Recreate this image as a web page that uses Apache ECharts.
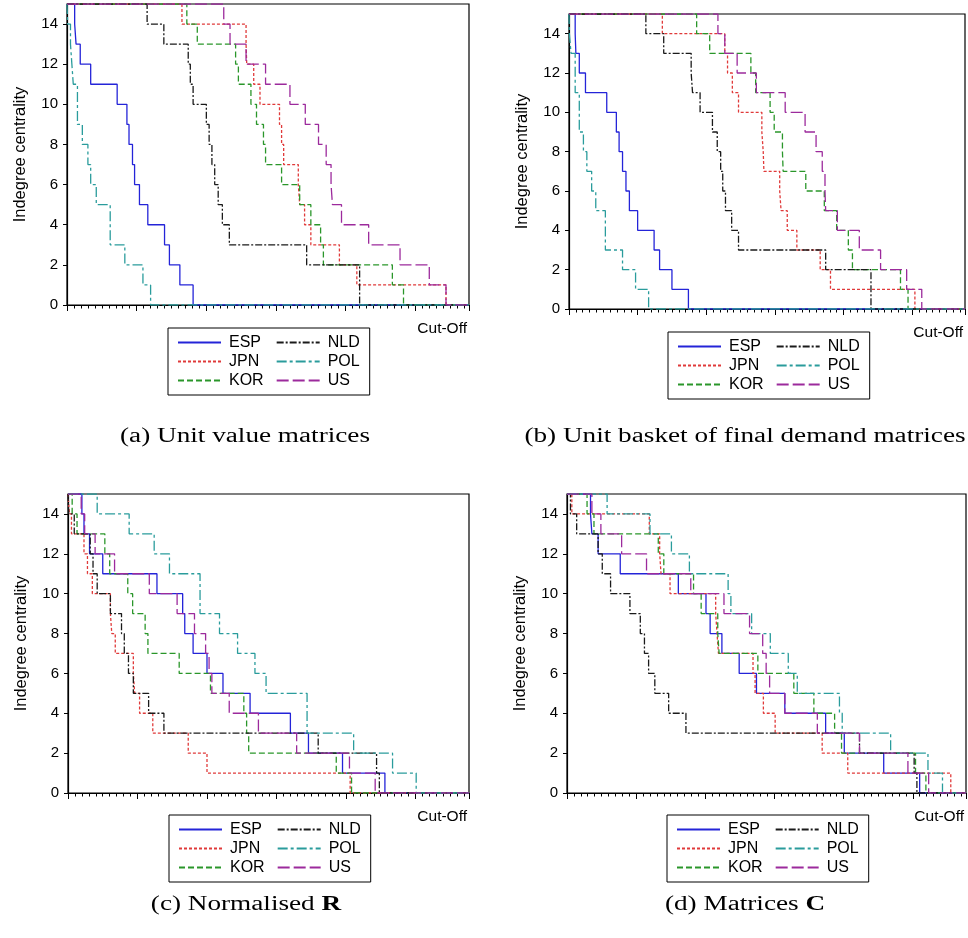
<!DOCTYPE html>
<html>
<head>
<meta charset="utf-8">
<script src="https://cdn.jsdelivr.net/npm/echarts@6/dist/echarts.min.js"></script>
<style>
  html, body { margin: 0; padding: 0; background: #fff; }
  #chart { width: 968px; height: 938px; }
</style>
</head>
<body>
<div id="chart"></div>
<script>
// ---- Data: [cut-off where level begins, indegree centrality] ----
const countries = ['ESP', 'JPN', 'KOR', 'NLD', 'POL', 'US'];
const yTicks = [0, 2, 4, 6, 8, 10, 12, 14];
const captions = ['(a) Unit value matrices', '(b) Unit basket of final demand matrices', '(c) Normalised {b|R}', '(d) Matrices {b|C}'];

// (a) Unit value matrices
const a_ESP = [[0,15],[1.1,14],[1.3,13],[1.9,12],[3.4,11],[7.2,10],[8.6,9],[8.9,8],[9.4,7],[9.7,6],[10.4,5],[11.6,4],[14.0,3],[14.7,2],[16.2,1],[18.1,0]];
const a_JPN = [[0,15],[16.5,14],[25.7,13],[25.8,12],[26.8,11],[27.7,10],[30.5,9],[30.8,8],[31.1,7],[33.2,6],[33.4,5],[34.1,4],[35.0,3],[39.1,2],[41.6,1],[54.4,0]];
const a_KOR = [[0,15],[17.2,14],[18.7,13],[24.2,12],[24.6,11],[26.4,10],[27.2,9],[28.2,8],[28.5,7],[30.8,6],[33.4,5],[35.0,4],[36.4,3],[36.8,2],[46.7,1],[48.3,0]];
const a_NLD = [[0,15],[11.5,14],[13.9,13],[17.4,12],[17.7,11],[18.1,10],[20.0,9],[20.4,8],[20.8,7],[21.2,6],[21.7,5],[22.3,4],[23.3,3],[34.4,2],[42.0,0]];
const a_POL = [[0,15],[0.1,14],[0.5,13],[0.7,12],[0.9,11],[1.5,9],[2.2,8],[3.0,7],[3.4,6],[4.2,5],[6.2,3],[8.3,2],[10.9,1],[12.0,0]];
const a_US  = [[0,15],[22.5,14],[23.4,13],[25.7,12],[28.5,11],[32.0,10],[34.2,9],[36.1,8],[37.2,7],[37.9,6],[38.1,5],[39.4,4],[43.3,3],[47.8,2],[52.0,1],[54.4,0]];

// (b) Unit basket of final demand matrices
const b_ESP = [[0,15],[0.9,14],[1.0,13],[1.5,12],[2.4,11],[5.5,10],[6.9,9],[7.3,8],[7.8,7],[8.3,6],[8.8,5],[10.0,4],[12.4,3],[13.2,2],[15.0,1],[17.4,0]];
const b_JPN = [[0,15],[13.6,14],[22.7,13],[23.1,12],[23.8,11],[24.7,10],[28.1,9],[28.3,8],[28.4,7],[30.7,6],[30.9,5],[31.8,4],[33.2,3],[36.6,2],[38.1,1],[50.4,0]];
const b_KOR = [[0,15],[18.6,14],[20.5,13],[26.5,12],[27.2,11],[29.3,10],[29.9,9],[31.1,8],[31.2,7],[34.5,6],[37.2,5],[39.0,4],[40.7,3],[41.3,2],[48.3,1],[49.4,0]];
const b_NLD = [[0,15],[11.2,14],[13.8,13],[17.8,12],[18.0,11],[19.1,10],[20.9,9],[21.6,8],[22.1,7],[22.4,6],[22.8,5],[23.7,4],[24.7,3],[37.4,2],[44.0,0]];
const b_POL = [[0,15],[0.05,14],[0.3,13],[0.9,11],[1.5,9],[2.1,8],[2.6,7],[3.3,6],[3.9,5],[5.3,3],[7.8,2],[9.7,1],[11.6,0]];
const b_US  = [[0,15],[21.7,14],[22.7,13],[24.5,12],[27.3,11],[31.5,10],[34.4,9],[36.0,8],[36.9,7],[37.3,6],[37.4,5],[39.1,4],[42.3,3],[45.4,2],[49.2,1],[51.4,0]];

// (c) Normalised R
const c_ESP = [[0,15],[2.0,14],[2.3,13],[3.1,12],[5.0,11],[12.8,10],[16.5,9],[16.8,8],[18.0,7],[20.0,6],[22.3,5],[26.2,4],[32.0,3],[34.6,2],[39.5,1],[45.6,0]];
const c_JPN = [[0,15],[0.2,14],[0.5,13],[2.3,12],[2.8,11],[3.5,10],[6.1,9],[6.3,8],[6.8,7],[9.4,6],[9.6,5],[10.3,4],[12.2,3],[17.3,2],[20.0,1],[40.6,0]];
const c_KOR = [[0,15],[0.6,14],[1.3,13],[5.3,12],[6.0,11],[8.6,10],[9.3,9],[11.1,8],[11.5,7],[16.0,6],[20.5,5],[25.3,4],[25.7,3],[26.0,2],[38.6,1],[40.8,0]];
const c_NLD = [[0,15],[0.1,14],[0.9,13],[3.2,12],[3.6,11],[4.2,10],[6.1,9],[7.7,8],[8.1,7],[8.7,6],[9.4,5],[11.6,4],[13.8,3],[36.0,2],[44.4,1],[44.8,0]];
const c_POL = [[0,15],[4.2,14],[8.8,13],[12.4,12],[14.6,11],[19.0,9],[21.8,8],[24.4,7],[26.9,6],[28.5,5],[34.4,3],[41.1,2],[46.7,1],[50.1,0]];
const c_US  = [[0,15],[1.9,14],[2.4,13],[3.9,12],[6.7,11],[11.7,10],[15.7,9],[18.2,8],[19.8,7],[20.3,6],[20.7,5],[23.2,4],[27.4,3],[32.9,2],[40.5,1],[44.2,0]];

// (d) Matrices C
const d_ESP = [[0,15],[3.4,14],[3.6,13],[4.5,12],[7.7,11],[16.1,10],[20.1,9],[20.7,8],[22.4,7],[24.9,6],[27.4,5],[31.5,4],[37.4,3],[40.1,2],[45.8,1],[51.0,0]];
const d_JPN = [[0,15],[0.7,14],[11.9,13],[13.4,12],[13.6,11],[14.9,10],[21.5,9],[21.7,8],[21.9,7],[26.9,6],[27.2,5],[28.4,4],[30.1,3],[36.9,2],[40.6,1],[55.5,0]];
const d_KOR = [[0,15],[2.9,14],[3.9,13],[13.2,12],[14.0,11],[18.3,10],[19.4,9],[21.8,8],[22.0,7],[27.6,6],[32.8,5],[35.7,4],[38.7,3],[39.7,2],[50.4,1],[51.9,0]];
const d_NLD = [[0,15],[0.5,14],[1.4,13],[4.5,12],[5.1,11],[6.3,10],[9.1,9],[10.6,8],[11.2,7],[11.8,6],[12.7,5],[14.7,4],[17.2,3],[42.3,2],[50.2,1],[50.6,0]];
const d_POL = [[0,15],[5.8,14],[12.0,13],[15.1,12],[17.7,11],[23.3,10],[23.7,9],[26.7,8],[29.4,7],[32.0,6],[33.3,5],[39.4,4],[39.8,3],[46.8,2],[52.2,1],[54.3,0]];
const d_US  = [[0,15],[3.6,14],[4.9,13],[7.9,12],[11.5,11],[17.9,10],[22.7,9],[26.4,8],[28.3,7],[28.8,6],[29.3,5],[31.5,4],[36.2,3],[42.3,2],[49.3,1],[52.3,0]];

const panels = [
  [a_ESP, a_JPN, a_KOR, a_NLD, a_POL, a_US],
  [b_ESP, b_JPN, b_KOR, b_NLD, b_POL, b_US],
  [c_ESP, c_JPN, c_KOR, c_NLD, c_POL, c_US],
  [d_ESP, d_JPN, d_KOR, d_NLD, d_POL, d_US]
];

// ---- Layout / style ----
const XMAX = 57.7;
const SANS = 'Liberation Sans, Arial, Helvetica, sans-serif';
const SERIF = 'Liberation Serif, Times New Roman, serif';
const STYLE = {
  ESP: { color: '#2424d8', type: 'solid' },
  JPN: { color: '#e03a3a', type: [3, 2] },
  KOR: { color: '#2a962a', type: [6, 3] },
  NLD: { color: '#1a1a1a', type: [7, 2, 2, 2] },
  POL: { color: '#2a9c9c', type: [10, 3, 3, 3] },
  US:  { color: '#9c2a9c', type: [12, 4] }
};
const gridPos = [
  { left: 67, top: 4, width: 402, height: 301 },
  { left: 569, top: 14, width: 396, height: 295 },
  { left: 68, top: 494, width: 401, height: 299 },
  { left: 567, top: 494, width: 399, height: 299 }
];
const legendPos = [
  { left: 168, top: 328 },
  { left: 668, top: 332 },
  { left: 169, top: 815 },
  { left: 667, top: 815 }
];
const captionPos = [[245, 437], [745, 437], [246, 905], [745, 905]];

function toData(arr) {
  const d = arr.map(p => [p[0], p[1]]);
  d.push([XMAX, arr[arr.length - 1][1]]);
  return d;
}

const grid = gridPos.map(g => Object.assign({
  show: true, borderColor: '#000', borderWidth: 1.2, backgroundColor: 'transparent', containLabel: false
}, g));

const xAxis = gridPos.map((g, i) => ({
  type: 'value', gridIndex: i, min: 0, max: XMAX, interval: 10,
  axisLine: { show: true, onZero: false, lineStyle: { color: '#000', width: 1.2 } },
  axisTick: { show: true, length: 6, lineStyle: { color: '#000', width: 1 } },
  minorTick: { show: true, splitNumber: 10, length: 3.5, lineStyle: { color: '#000', width: 1 } },
  axisLabel: { show: false },
  splitLine: { show: false },
  minorSplitLine: { show: false },
  name: 'Cut-Off', nameLocation: 'end', nameGap: 0,
  nameTextStyle: { fontFamily: SANS, fontSize: 15.5, color: '#000', align: 'right', verticalAlign: 'top', padding: [16, 2, 0, 0] }
}));

const yAxis = gridPos.map((g, i) => ({
  type: 'value', gridIndex: i, min: 0, max: 15, interval: 2,
  axisLine: { show: true, onZero: false, lineStyle: { color: '#000', width: 1.2 } },
  axisTick: { show: true, length: 4, lineStyle: { color: '#000', width: 1 } },
  axisLabel: { show: true, showMaxLabel: false, fontFamily: SANS, fontSize: 15, color: '#000', margin: 9,
               formatter: v => (yTicks.indexOf(v) >= 0 ? String(v) : '') },
  splitLine: { show: false },
  name: 'Indegree centrality', nameLocation: 'middle', nameGap: 38,
  nameTextStyle: { fontFamily: SANS, fontSize: 16.5, color: '#000' }
}));

const series = [];
panels.forEach((list, pi) => {
  list.forEach((arr, si) => {
    const name = countries[si];
    series.push({
      type: 'line', name: name, xAxisIndex: pi, yAxisIndex: pi,
      step: 'end', symbol: 'none', showSymbol: false, clip: true,
      data: toData(arr),
      lineStyle: { color: STYLE[name].color, type: STYLE[name].type, width: 1.3 },
      itemStyle: { color: STYLE[name].color },
      emphasis: { disabled: true }
    });
  });
});

const legend = legendPos.map(p => ({
  show: true, orient: 'vertical', left: p.left, top: p.top, height: 60,
  data: countries.slice(),
  itemWidth: 43, itemHeight: 14, itemGap: 2,
  padding: [6, 0, 6, 9],
  borderColor: '#000', borderWidth: 1, backgroundColor: '#fff',
  selectedMode: false,
  itemStyle: { opacity: 0 },
  textStyle: { fontFamily: SANS, fontSize: 16, color: '#000', lineHeight: 17, padding: [0, 10, 0, 3] }
}));

const graphic = captions.map((t, i) => ({
  type: 'text', x: captionPos[i][0], y: captionPos[i][1], scaleX: 1.36, scaleY: 1,
  style: {
    text: t, fontFamily: SERIF, fontSize: 20, fill: '#000', align: 'center', verticalAlign: 'middle',
    rich: { b: { fontFamily: SERIF, fontSize: 20, fontWeight: 'bold', fill: '#000' } }
  }
}));

const chart = echarts.init(document.getElementById('chart'), null, { renderer: 'canvas' });
chart.setOption({
  animation: false,
  backgroundColor: '#fff',
  grid, xAxis, yAxis, series, legend, graphic
});
</script>
</body>
</html>
